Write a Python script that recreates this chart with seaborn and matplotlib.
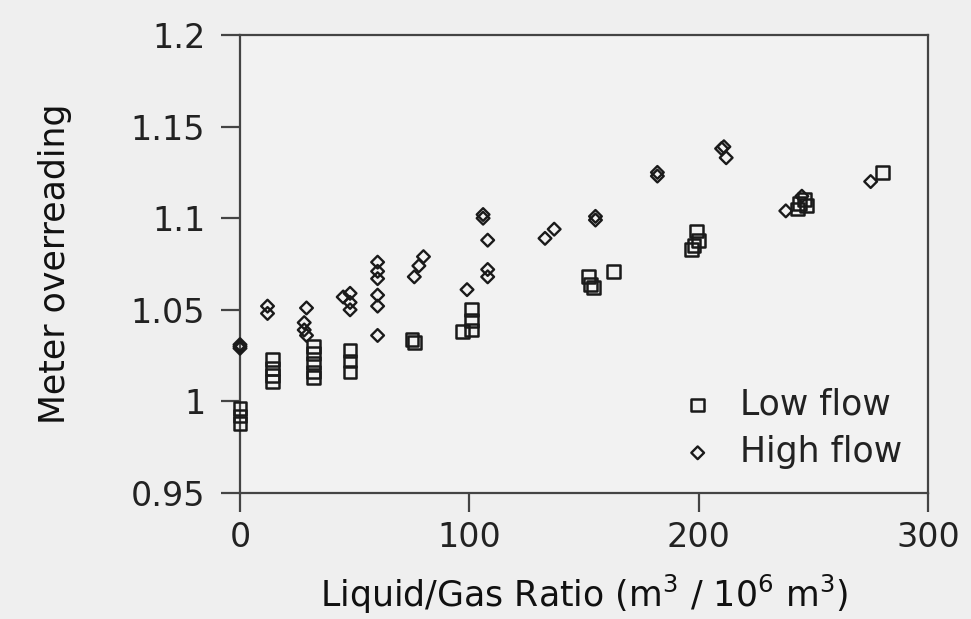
import matplotlib
matplotlib.use("Agg")
import matplotlib.pyplot as plt
import seaborn as sns
import pandas as pd

# ---- data ----
low_x = [0, 0, 0, 14, 14, 14, 14, 32, 32, 32, 32, 32, 48, 48, 48,
         75, 76, 97, 101, 101, 101, 152, 153, 154, 163, 197, 198, 199, 200,
         243, 244, 246, 247, 280]
low_y = [0.996, 0.992, 0.988, 1.023, 1.018, 1.014, 1.011, 1.030, 1.026, 1.021, 1.016, 1.013,
         1.028, 1.022, 1.016, 1.034, 1.032, 1.038, 1.050, 1.044, 1.039,
         1.068, 1.064, 1.062, 1.071, 1.083, 1.085, 1.093, 1.088,
         1.105, 1.108, 1.110, 1.107, 1.125]

high_x = [0, 0, 0, 12, 12, 29, 28, 28, 29, 45, 48, 48, 48,
          60, 60, 60, 60, 60, 60, 76, 78, 80, 99, 106, 106, 108, 108, 108,
          133, 137, 155, 155, 182, 182, 210, 211, 212, 238, 245, 275]
high_y = [1.031, 1.030, 1.029, 1.052, 1.048, 1.051, 1.043, 1.039, 1.036, 1.057, 1.059, 1.054, 1.050,
          1.076, 1.071, 1.067, 1.058, 1.052, 1.036, 1.068, 1.074, 1.079, 1.061, 1.102, 1.100,
          1.088, 1.072, 1.068, 1.089, 1.094, 1.101, 1.099, 1.125, 1.123, 1.138, 1.139, 1.133,
          1.104, 1.112, 1.120]

x_ticks = [0, 100, 200, 300]
y_ticks = [0.95, 1.0, 1.05, 1.1, 1.15, 1.2]
y_tick_labels = ["0.95", "1", "1.05", "1.1", "1.15", "1.2"]

low = pd.DataFrame({"x": low_x, "y": low_y})
high = pd.DataFrame({"x": high_x, "y": high_y})

sns.set_style("ticks")
plt.rcParams["font.family"] = ["DejaVu Sans"]

bg = "#efefef"
ink = "#1a1a1a"
fig = plt.figure(figsize=(9.71, 6.19), dpi=100, facecolor=bg)
ax = fig.add_axes([240 / 971, 1 - 493 / 619, 688 / 971, 458 / 619])
ax.set_facecolor("#f2f2f2")

sns.scatterplot(data=low, x="x", y="y", marker="s", s=85, facecolor="none",
                edgecolor=ink, linewidth=1.8, label="Low flow", ax=ax, zorder=3,
                clip_on=False)
sns.scatterplot(data=high, x="x", y="y", marker="D", s=42, facecolor="none",
                edgecolor=ink, linewidth=1.7, label="High flow", ax=ax, zorder=3,
                clip_on=False)

ax.set_xlim(0, 300)
ax.set_ylim(0.95, 1.2)
ax.set_xticks(x_ticks)
ax.set_xticklabels([str(v) for v in x_ticks])
ax.set_yticks(y_ticks)
ax.set_yticklabels(y_tick_labels)

for sp in ax.spines.values():
    sp.set_color("#444444")
    sp.set_linewidth(1.6)

ax.tick_params(axis="both", direction="out", length=14, width=1.6, color="#444444",
               labelsize=24, labelcolor="#222222")
ax.tick_params(axis="x", pad=6)
ax.tick_params(axis="y", pad=11)

ax.set_xlabel("Liquid/Gas Ratio (m$^3$ / 10$^6$ m$^3$)", fontsize=25, color="#111111", labelpad=14)
ax.set_ylabel("Meter overreading", fontsize=25, color="#111111", labelpad=42)

leg = ax.legend(loc="center left", bbox_to_anchor=(0.640, 0.142), frameon=False,
                fontsize=25, handlelength=1.0, handletextpad=0.72, labelspacing=0.4,
                borderpad=0, borderaxespad=0)
for t in leg.get_texts():
    t.set_color("#222222")

fig.savefig("out.png", dpi=100, facecolor=bg)
